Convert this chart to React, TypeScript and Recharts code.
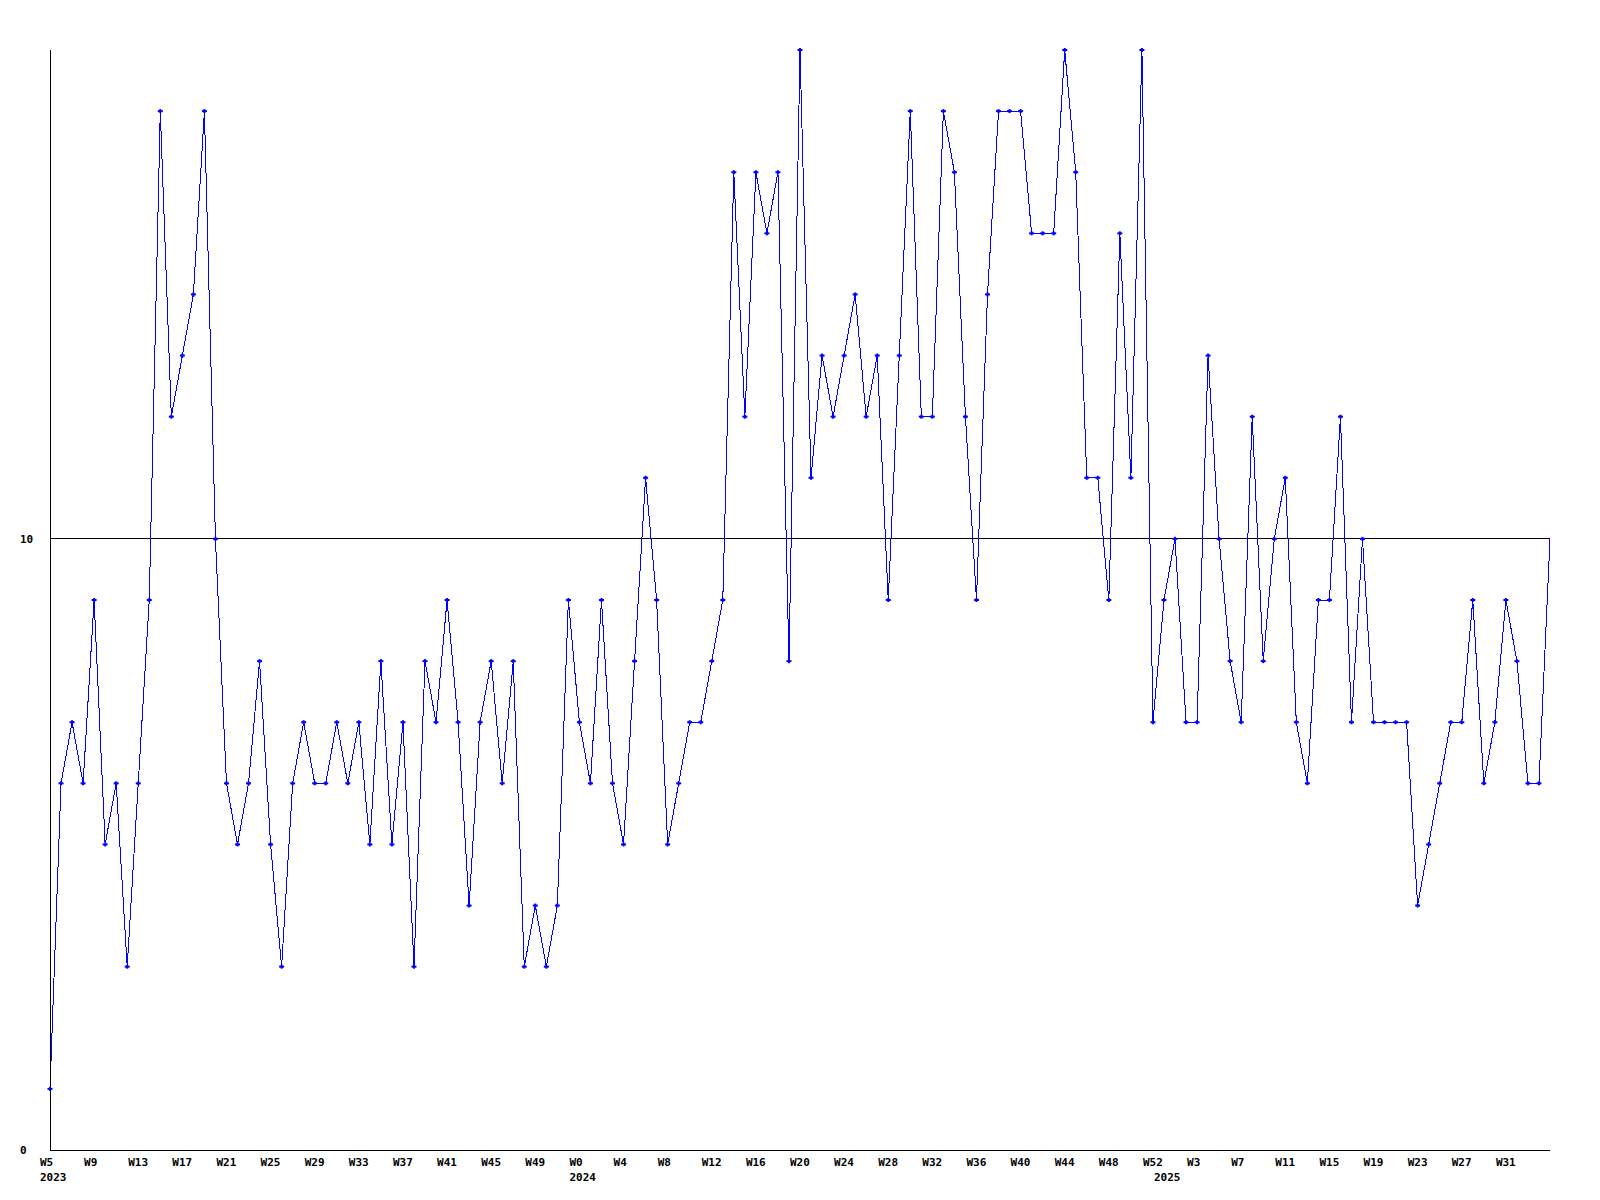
import { LineChart, Line, XAxis, YAxis, ReferenceLine } from 'recharts'

// weekly counts, 2023 W5 .. 2025 W35
const years = [2023, 2024, 2025]
const firstWeek = [5, 0, 0]
const lastWeek = [52, 52, 35]

const counts = [
  1, 6, 7, 6, 9, 5, 6, 3, 6, 9, 17, 12, 13, 14, 17, 10, 6, 5, 6, 8,
  5, 3, 6, 7, 6, 6, 7, 6, 7, 5, 8, 5, 7, 3, 8, 7, 9, 7, 4, 7,
  8, 6, 8, 3, 4, 3, 4, 9, 7, 6, 9, 6, 5, 8, 11, 9, 5, 6, 7, 7,
  8, 9, 16, 12, 16, 15, 16, 8, 18, 11, 13, 12, 13, 14, 12, 13, 9, 13, 17, 12,
  12, 17, 16, 12, 9, 14, 17, 17, 17, 15, 15, 15, 18, 16, 11, 11, 9, 15, 11, 18,
  7, 9, 10, 7, 7, 13, 10, 8, 7, 12, 8, 10, 11, 7, 6, 9, 9, 12, 7, 10,
  7, 7, 7, 7, 4, 5, 6, 7, 7, 9, 6, 7, 9, 8, 6, 6, 10,
]

const yTicks = [0, 10]
const labelEvery = 4
const lastLabelIdx = 132

const weeks: { week: string; year: string }[] = []
years.forEach((yr, k) => {
  for (let w = firstWeek[k]; w <= lastWeek[k]; w++) {
    weeks.push({ week: `W${w}`, year: w === firstWeek[k] ? String(yr) : '' })
  }
})

const data = counts.map((v, i) => ({ idx: i, value: v, ...weeks[i] }))
const showWeek = (i: number) => i % labelEvery === 0 && i <= lastLabelIdx
const xTicks = data.filter((d) => showWeek(d.idx) || d.year).map((d) => d.idx)

const W = 1600
const H = 1200
const PLOT_BOTTOM = 1150
const font = '"DejaVu Sans Mono", monospace'
const blue = '#0000ff'

function WeekTick(props: any) {
  const { x, payload } = props
  const d = data[payload.value]
  if (!d) return null
  return (
    <g>
      {showWeek(d.idx) && (
        <text x={x - 10} y={PLOT_BOTTOM + 16} fontFamily={font} fontWeight="bold" fontSize={11} fill="#000">
          {d.week}
        </text>
      )}
      {d.year && (
        <text x={x - 10} y={PLOT_BOTTOM + 31} fontFamily={font} fontWeight="bold" fontSize={11} fill="#000">
          {d.year}
        </text>
      )}
    </g>
  )
}

function CountTick(props: any) {
  const { y, payload } = props
  return (
    <text x={20} y={y + 4} fontFamily={font} fontWeight="bold" fontSize={11} fill="#000">
      {payload.value}
    </text>
  )
}

function PlusDot(props: any) {
  const { cx, cy, index } = props
  if (index === counts.length - 1) return <g key={index} />
  return (
    <g key={index} fill={blue}>
      <rect x={cx - 2.5} y={cy - 1} width={5} height={2} />
      <rect x={cx - 1} y={cy - 2} width={2} height={4} />
    </g>
  )
}

export default function App() {
  return (
    <div style={{ position: 'absolute', left: 0, top: 0, width: W, height: H, background: '#fff' }}>
      <LineChart width={W} height={H} data={data} margin={{ top: 50, right: 50, bottom: 0, left: 0 }}>
        <XAxis
          dataKey="idx"
          type="number"
          domain={[0, counts.length - 1]}
          ticks={xTicks}
          interval={0}
          height={50}
          tick={<WeekTick />}
          tickLine={false}
          axisLine={{ stroke: '#000', strokeWidth: 1, shapeRendering: 'crispEdges' }}
        />
        <YAxis
          type="number"
          domain={[0, 18]}
          ticks={yTicks}
          width={50}
          tick={<CountTick />}
          tickLine={false}
          axisLine={{ stroke: '#000', strokeWidth: 1, shapeRendering: 'crispEdges' }}
        />
        <ReferenceLine y={10} stroke="#000" strokeWidth={1} shapeRendering="crispEdges" />
        <Line
          type="linear"
          dataKey="value"
          stroke={blue}
          strokeWidth={1}
          shapeRendering="crispEdges"
          dot={<PlusDot />}
          activeDot={false}
          isAnimationActive={false}
        />
      </LineChart>
    </div>
  )
}
